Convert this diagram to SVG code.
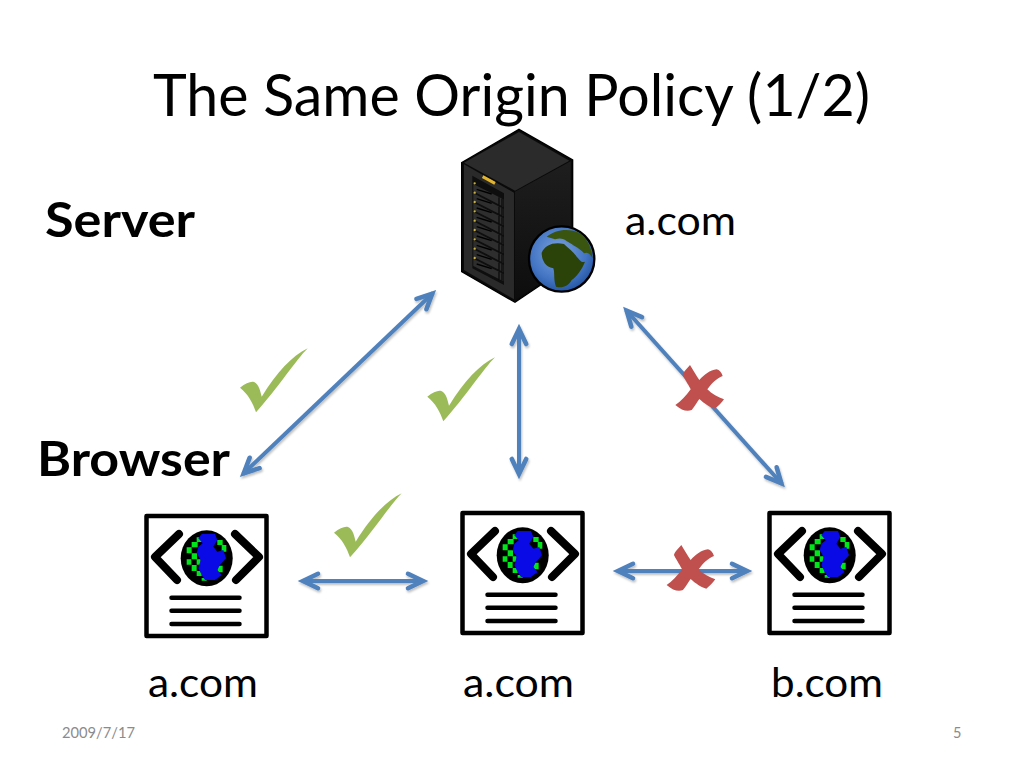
<svg xmlns="http://www.w3.org/2000/svg" width="1024" height="768" viewBox="0 0 1024 768">
<style>
text{font-family:"Lato","Carlito","Open Sans","Liberation Sans",sans-serif;fill:#000}
.t40{font-size:41px}
.b{font-size:48px;font-weight:700}
.foot{font-size:14.5px;fill:#8b8b8b}
.link{fill:none;stroke:#4f81bd;stroke-width:4;marker-start:url(#head);marker-end:url(#head)}
.ln{stroke:#000;stroke-width:4.5;stroke-linecap:round;fill:none}
.ch{stroke:#000;stroke-width:8;stroke-linecap:round;stroke-linejoin:round;fill:none}
.check{fill:#9bbb59}
.cross{fill:#c0504d}
.slot{fill:#2e2e2e}
.tick{stroke:#000;stroke-width:3;fill:none}
</style>
<defs>
<filter id="sh" x="-20%" y="-20%" width="140%" height="140%"><feDropShadow dx="1" dy="2" stdDeviation="1.2" flood-color="#000" flood-opacity=".25"/></filter>
<marker id="head" markerUnits="userSpaceOnUse" markerWidth="32" markerHeight="32" viewBox="-26 -16 32 32" refX="1" refY="0" orient="auto-start-reverse">
<path d="M-15 -7.200 L0 0 L-15 7.200" fill="none" stroke="#4f81bd" stroke-width="4.600" stroke-linecap="round" stroke-linejoin="miter"/>
</marker>
<radialGradient id="sea" cx=".45" cy=".4" r=".65"><stop offset="0" stop-color="#7ea4dc"/><stop offset=".65" stop-color="#4375c4"/><stop offset="1" stop-color="#1f4f9c"/></radialGradient>
<linearGradient id="sideF" x1="0" y1="0" x2="0" y2="1"><stop offset="0" stop-color="#1e1e1e"/><stop offset="1" stop-color="#0d0d0d"/></linearGradient>
<path id="chk" d="M240 387.700 C246 383 251 381 254 382 C259 384 260.500 392 261.700 396.700 C277 372 292 356 307.700 348.300 C296 360 278 388 256 412.300 C253 403 248 394 240 387.700Z"/>
<path id="xm" d="M270 195 C262 205 250 215 248 225 C258 245 268 258 272 268 C258 288 242 305 226 315 C245 332 262 335 275 330 C285 318 292 305 298 297 C312 310 330 322 345 326 C355 318 365 308 372 298 C355 292 335 282 322 268 C335 250 350 235 368 228 C365 218 358 210 350 208 C330 210 312 225 298 240 C288 225 278 208 270 195Z"/>
<path id="sl" class="slot" d="M100 192 L190 238 V260 L100 214Z"/>
<g id="slotrow"><use href="#sl"/><path d="M110 208 L155 222" stroke="#000" stroke-width="4" fill="none"/><path class="tick" d="M177 232 v22 M186 236 v22"/><circle cx="104" cy="190" r="3.500" fill="#c8b13c"/></g>
<g id="doc">
<rect x="146.500" y="516" width="120" height="120" fill="#fff" stroke="#000" stroke-width="4.500" stroke-linejoin="round"/>
<path class="ch" d="M179 534 L155 557 L177 580"/>
<path class="ch" d="M235 534 L259 557 L236 580"/>
<ellipse cx="206.700" cy="558.300" rx="26" ry="28" fill="#000"/>
<g transform="translate(130 500) scale(.33333)">
<path fill="#00e61a" d="M200 112h18v14h-18z M185 126h18v16h-18z M170 142h15v18h-15z M170 178h14v16h-14z M185 160h16v18h-16z M185 195h15v18h-15z M200 178h12v16h-12z M200 213h15v15h-15z M215 234h15v8h-15z M262 120h16v15h-16z M275 135h14v20h-14z M262 197h16v20h-16z"/>
<path fill="#0a0ae6" d="M215 102 L255 102 L262 120 L250 140 L262 155 L280 150 L288 175 L270 195 L262 210 L275 225 L255 240 L225 240 L215 225 L205 205 L212 180 L200 160 L205 140 L218 130 L205 115Z"/>
</g>
<path class="ln" d="M171.500 597.700 H239.500 M171.500 610.700 H239.500 M171.500 624 H239.500"/>
</g>
</defs>
<rect width="1024" height="768" fill="#fff"/>
<g id="title"><text x="153" y="116" font-size="58" textLength="717" lengthAdjust="spacingAndGlyphs">The Same Origin Policy (1/2)</text></g>
<g id="connectors" filter="url(#sh)">
<path class="link" d="M433 293 L243 474"/>
<path class="link" d="M519 328 V475"/>
<path class="link" d="M626 310 L782 484"/>
<path class="link" d="M302 581 H424"/>
<path class="link" d="M617 571 H748"/>
</g>
<g id="server">
<g transform="translate(440 120) scale(.33333)">
<path d="M237 28 L398 120 V430 L225 547 L65 455 V128Z" fill="#0a0a0a" stroke="#000" stroke-width="4"/>
<path d="M237 36 L388 122 L225 212 L72 128Z" fill="#2b2b2b"/>
<path d="M225 215 L392 124 V428 L225 540Z" fill="url(#sideF)"/>
<path d="M72 133 L222 218 V538 L72 450Z" fill="#2a2a2a"/>
<path d="M97 167 L192 220 V495 L97 445Z" fill="#0e0e0e"/>
<use href="#slotrow"/><use href="#slotrow" y="28"/><use href="#slotrow" y="56"/><use href="#slotrow" y="84"/><use href="#slotrow" y="112"/><use href="#slotrow" y="140"/><use href="#slotrow" y="168"/><use href="#slotrow" y="196"/><use href="#slotrow" y="224"/>
<path d="M128 170 L165 190" stroke="#e3b52d" stroke-width="9" fill="none"/>
<circle cx="365" cy="417" r="98" fill="url(#sea)" stroke="#000" stroke-width="7"/>
<path d="M305 398 C315 375 340 365 372 372 C385 385 400 395 410 410 C420 420 425 430 435 425 C425 450 410 470 395 480 C385 500 365 505 348 500 C340 480 345 460 340 445 C315 440 305 420 305 398Z" fill="#2b4209"/>
<path d="M320 350 C345 330 385 322 420 340 C445 360 455 385 458 415 C450 400 440 395 432 400 C420 385 405 380 395 372 C375 362 370 350 345 358Z" fill="#3a5510"/>
</g>
</g>
<g id="label-server"><text class="b" x="45" y="237" textLength="150" lengthAdjust="spacingAndGlyphs">Server</text></g>
<g id="label-server-domain"><text class="t40" x="625" y="235" textLength="111" lengthAdjust="spacingAndGlyphs">a.com</text></g>
<g id="label-browser"><text class="b" x="37" y="476" textLength="193" lengthAdjust="spacingAndGlyphs">Browser</text></g>
<g id="check-1"><use href="#chk" class="check"/></g>
<g id="check-2"><use href="#chk" class="check" transform="translate(187.300 9)"/></g>
<g id="check-3"><use href="#chk" class="check" transform="translate(94 145)"/></g>
<g id="cross-1"><use href="#xm" class="cross" transform="translate(600 300) scale(.33333)"/></g>
<g id="cross-2"><use href="#xm" class="cross" transform="translate(591.300 480) scale(.33333)"/></g>
<g id="browser-a"><use href="#doc"/><text class="t40" x="148" y="697" textLength="110" lengthAdjust="spacingAndGlyphs">a.com</text></g>
<g id="browser-a2"><use href="#doc" transform="translate(316 -3)"/><text class="t40" x="463" y="697" textLength="111" lengthAdjust="spacingAndGlyphs">a.com</text></g>
<g id="browser-b"><use href="#doc" transform="translate(623 -3)"/><text class="t40" x="771" y="697" textLength="112" lengthAdjust="spacingAndGlyphs">b.com</text></g>
<g id="footer"><text class="foot" x="62" y="738" textLength="73" lengthAdjust="spacingAndGlyphs">2009/7/17</text><text class="foot" x="953" y="738">5</text></g>
</svg>
